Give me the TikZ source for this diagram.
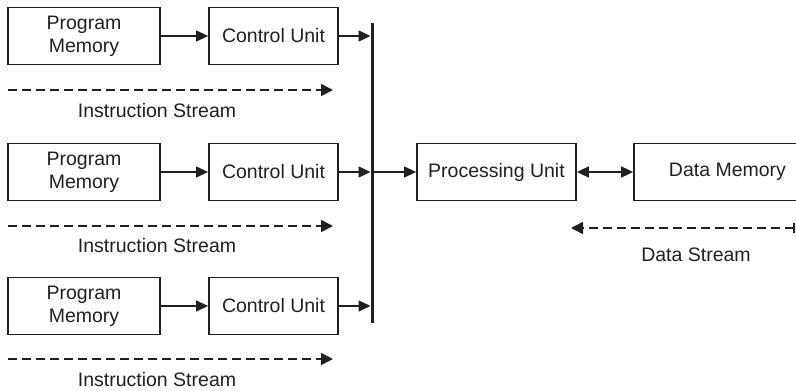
\documentclass[tikz,border=0pt]{standalone}
\usepackage{fontspec}
\setmainfont{Liberation Sans}
\usetikzlibrary{arrows.meta,calc}
\definecolor{ink}{RGB}{35,31,32}
\begin{document}
\begin{tikzpicture}[x=1pt,y=-1pt,color=ink,
  box/.style={draw,line width=1.8pt,minimum height=57pt,inner sep=0pt,align=center,
    font=\fontsize{19.5}{23}\selectfont},
  lbl/.style={inner sep=0pt,font=\fontsize{19.5}{23}\selectfont},
  conn/.style={line width=1.3pt,-{Triangle[length=12pt,width=11pt]}},
  stream/.style={line width=1.6pt,dash pattern=on 9pt off 5pt,-{Triangle[length=12pt,width=12pt]}},
  busbar/.style={line width=3pt}]
\clip (0,0) rectangle (796,391);
\useasboundingbox (0,0) rectangle (796,391);
% row boxes
\foreach \r/\y in {1/36,2/172,3/306}{
  \node[box,minimum width=152pt] (pm\r) at (84,\y) {Program\\Memory};
  \node[box,minimum width=129pt] (cu\r) at (273.5,\y) {Control Unit};
}
\node[box,minimum width=159pt] (pu) at (496.5,172) {Processing Unit};
\node[box,minimum width=187pt] (dm) at (727.5,172) {Data Memory};
% bus bar
\coordinate (bartop) at (372,23);
\coordinate (barbot) at (372,323);
% connectors
\foreach \r in {1,2,3}{
  \draw[conn] (pm\r.east) -- (cu\r.west);
  \draw[conn,shorten >=1.5pt] (cu\r.east) -- (cu\r.east -| bartop);
}
\draw[conn] (pu.west -| bartop) -- (pu.west);
\draw[busbar] (bartop) -- (barbot);
\draw[line width=1.8pt,{Triangle[length=12pt,width=11pt]}-{Triangle[length=12pt,width=11pt]}] (pu.east) -- (dm.west);
% instruction streams
\foreach \r/\y/\t in {1/90/111,2/226/245.5,3/359/380}{
  \coordinate (iss\r) at (8,\y);
  \coordinate (ise\r) at (333,\y);
  \draw[stream] (iss\r) -- (ise\r);
  \node[lbl] (ist\r) at (157,\t) {Instruction Stream};
}
% data stream
\coordinate (dss) at (794,228);
\coordinate (dse) at (571,228);
\draw[stream] (dss) -- (dse);
\draw[line width=1.6pt] ($(dss)+(0,-5)$) -- ($(dss)+(0,5)$);
\node[lbl] (dst) at (696,255) {Data Stream};
\end{tikzpicture}
\end{document}
